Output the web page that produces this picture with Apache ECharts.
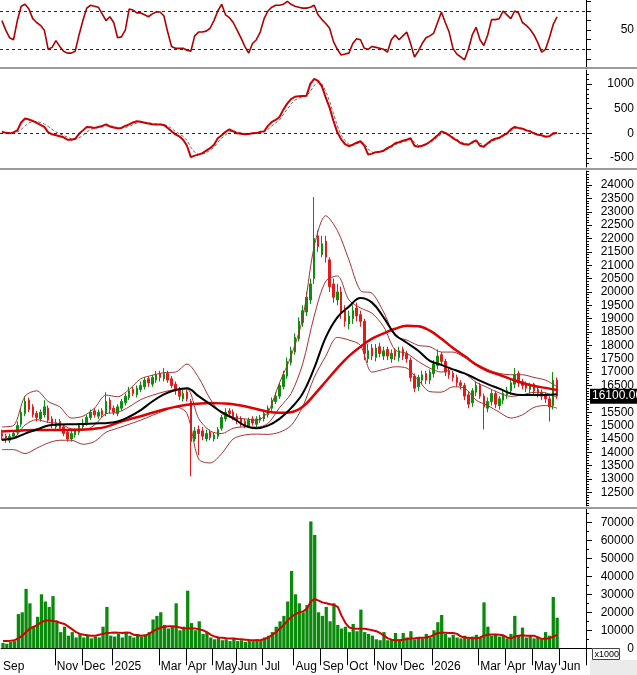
<!DOCTYPE html>
<html><head><meta charset="utf-8">
<script src="https://cdn.jsdelivr.net/npm/echarts@6/dist/echarts.min.js"></script>
<style>html,body{margin:0;padding:0;background:#fff}#c{width:637px;height:675px}</style>
</head><body><div id="c"></div>
<script>
// ---------- calendar ----------
const holidays = ['2024-09-02','2024-09-03','2025-01-01','2025-01-27','2025-01-28','2025-01-29','2025-01-30','2025-01-31',
  '2025-04-07','2025-04-30','2025-05-01','2025-05-02','2025-09-01','2025-09-02','2026-01-01',
  '2026-02-16','2026-02-17','2026-02-18','2026-02-19','2026-02-20','2026-04-30','2026-05-01'];
const firstDay = '2024-09-04', lastDay = '2026-06-30';
const daysPerBar = 3;
const shownMonths = ['2024-09','2024-11','2024-12','2025-01','2025-03','2025-04','2025-05','2025-06','2025-07','2025-08',
  '2025-09','2025-10','2025-11','2025-12','2026-01','2026-03','2026-04','2026-05','2026-06'];
const monthNames = ['Jan','Feb','Mar','Apr','May','Jun','Jul','Aug','Sep','Oct','Nov','Dec'];

// ---------- price (one bar per 3 sessions) ----------
const open = [14700,14600,14450,14600,14750,15050,15450,15950,15700,15450,15250,15400,15650,15250,14950,15150,14950,14750,14500,14650,
 14750,14950,15100,15300,15550,15350,15550,15450,15950,15650,15450,15650,15850,16050,16350,16150,16350,16450,16750,16550,
 16700,16950,16750,16950,16750,16550,16350,16000,16250,15900,14500,14850,14800,14500,14750,14500,14600,14900,15250,15550,
 15500,15350,15250,15150,14950,15250,15050,15200,15250,15400,15650,15900,16100,16450,16850,17350,17750,18250,18850,19250,
 19700,20500,22100,21400,21900,21200,20300,19700,20000,19300,18800,19000,19400,19150,18900,17500,17900,17550,17950,17600,
 17850,17500,17800,17550,17850,17700,17450,16850,16450,16700,16950,16700,16950,17250,17650,17400,17050,16950,16800,16600,
 16500,16150,15850,16250,16500,16100,15650,15900,16200,15750,15950,16150,16300,16550,16950,16650,16550,16350,16550,16350,
 16250,16150,16000,15750,16700];
const close = [14600,14500,14600,14700,15000,15500,15900,15600,15400,15300,15500,15700,15200,15000,15100,14900,14700,14500,14700,14800,
 15000,15100,15300,15500,15400,15500,15400,15900,15600,15500,15700,15900,16100,16300,16200,16400,16500,16700,16600,16800,
 16900,16800,16950,16700,16500,16300,16100,16200,16000,14400,14800,14700,14600,14700,14550,14650,14850,15300,15500,15450,
 15300,15200,15100,15000,15200,15100,15250,15300,15450,15650,15950,16100,16500,16900,17400,17800,18300,18900,19300,19800,
 20300,22000,21700,21800,21300,20200,19800,20000,19200,18900,19100,19300,19100,18900,17700,17800,17600,17900,17700,17800,
 17600,17700,17600,17800,17600,17500,16800,16400,16800,16900,16700,17000,17300,17600,17400,17000,16900,16800,16600,16500,
 16100,15800,16300,16500,16100,15700,15900,16200,15800,16000,16200,16300,16600,16900,16600,16500,16400,16500,16300,16200,
 16100,16000,15700,16700,16100];
const low = [14450,14350,14350,14500,14650,14950,15350,15500,15300,15150,15150,15300,15100,14900,14850,14800,14600,14400,14400,14550,
 14650,14850,15000,15200,15300,15250,15300,15350,15450,15400,15350,15550,15750,15950,16100,16050,16250,16350,16450,16450,
 16600,16650,16650,16600,16400,16150,15950,15900,15900,13100,14400,13900,14450,14400,14450,14400,14500,14800,15150,15300,
 15200,15050,14950,14900,14900,15000,14950,15100,15150,15300,15550,15800,16000,16350,16750,17250,17650,18150,18700,19100,
 19550,20300,21500,21300,21100,20000,19600,19500,19000,18700,18600,18800,18900,18700,17450,17350,17450,17400,17550,17450,
 17450,17350,17450,17400,17450,17350,16650,16250,16300,16550,16550,16550,16800,17100,17250,16850,16750,16650,16450,16350,
 15950,15650,15700,16100,16000,14850,15500,15750,15650,15600,15800,16000,16150,16400,16450,16350,16250,16200,16150,16050,
 15950,15850,15150,15600,16000];
const high = [14850,14700,14700,14800,15150,15650,16100,16050,15800,15550,15600,15950,15750,15350,15250,15250,15050,14850,14800,14900,
 15100,15250,15400,15600,15650,15600,15650,16250,16050,15750,15800,16000,16200,16450,16450,16500,16650,16800,16850,16900,
 17050,17050,17150,17050,16850,16650,16450,16350,16350,16000,14950,15000,14950,14850,14850,14750,14950,15400,15650,15650,
 15600,15450,15350,15250,15300,15350,15350,15400,15550,15750,16050,16250,16600,17050,17550,17950,18450,19050,19500,20000,
 20500,23550,22300,22100,22100,21300,20500,20300,20200,19500,19300,19500,19600,19300,19000,18050,18050,18050,18100,17950,
 17950,17850,17900,17950,17950,17800,17550,16950,16900,17050,17050,17100,17450,17850,17750,17500,17150,17050,16900,16700,
 16600,16250,16400,16650,16600,16200,16050,16350,16300,16100,16300,16450,16700,17150,17050,16750,16650,16600,16600,16450,
 16350,16250,16100,17000,16800];
const lastPrice = 16100;

// ---------- overlays (read every 3rd bar) ----------
const overlayStep = 3;
const maFast = [14460,14520,14700,14850,15000,15040,15050,15060,15080,15090,15150,15330,15580,15900,16170,16330,16400,16100,15800,15500,
 15270,15000,14900,15000,15250,15650,16200,17150,18300,19050,19450,19770,19600,19050,18400,18100,17800,17420,17270,17100,
 16950,16750,16550,16380,16200,16140,16140,16140,16170];
const maSlow = [14780,14800,14820,14830,14830,14830,14840,14850,14880,14950,15100,15230,15350,15480,15600,15700,15780,15820,15840,15830,
 15800,15720,15620,15520,15480,15500,15700,16150,16650,17150,17600,17950,18250,18450,18620,18730,18720,18550,18250,17900,
 17600,17280,17050,16900,16740,16590,16480,16410,16330];
const bbUpper = [14950,15000,16100,16300,15900,15700,15280,15350,15650,16140,16080,16350,16750,16880,16980,17000,17300,16800,16000,15450,
 15300,15250,15200,15500,16600,17600,19000,21700,22850,22300,21200,20050,19950,19250,18350,18200,18000,17950,17750,17750,
 17550,17300,17100,16950,16900,16900,16800,16700,16450];
const bbMid = [14520,14550,15020,15220,15120,15070,14870,14820,15020,15440,15490,15700,15970,16130,16260,16350,16370,15270,14800,14700,
 14900,14950,14940,15080,15670,16200,17300,19100,20400,20600,19700,19400,19200,18700,17830,17700,17400,17150,17000,17100,
 16950,16620,16420,16220,16090,16150,16240,16220,16050];
const bbLower = [14100,14100,13950,14150,14350,14450,14450,14300,14400,14750,14900,15050,15200,15380,15550,15700,15450,13750,13600,13950,
 14500,14650,14680,14670,14750,15000,15700,16800,17600,18300,18200,18000,17000,17100,17200,17150,16700,16270,16250,16450,
 16400,15950,15750,15500,15280,15400,15680,15750,15650];

// ---------- volume ----------
const volume = [3000,2500,3500,4000,19000,20000,33000,25000,12000,17500,30000,26000,23000,29000,15000,9000,12000,7000,9000,6000,
 8000,6000,7500,5500,6500,6000,12000,23000,7000,6500,8000,6000,9000,7000,6000,8000,6500,7500,9000,16000,
 18000,20000,13000,11000,12000,25000,10000,12000,32000,14000,10000,15000,8000,9000,6000,5000,6000,4500,5000,4000,
 5500,4000,4500,3500,4500,4000,5000,4500,6000,7000,9000,12000,15000,18000,26000,43000,30000,25000,20000,24000,
 70500,63000,20000,18000,23000,15000,25000,13000,11000,12000,9000,13500,9500,21500,9000,8000,7000,5000,4500,9000,
 4500,5000,8500,5000,8500,6000,9500,5000,6000,5500,8000,6000,10000,14500,18500,8000,6000,7500,6000,5500,
 7000,5500,6500,7500,6000,25500,12000,7000,8000,6500,7000,5500,8000,18000,7000,11500,6000,7000,5500,6500,
 5000,9000,7000,28500,17000];
const volumeMA = [4000,4000,4200,4500,5500,7000,9000,11000,12000,13000,14500,15400,15500,15200,15000,14000,13500,12000,10500,9000,
 8000,7500,7200,7000,7000,7500,8000,8500,8600,8800,8700,8500,8800,8600,7500,7200,7000,7200,8000,9500,
 10500,11500,12000,12300,12300,12000,11500,11000,11200,11000,11000,10500,10000,9000,7500,6500,6000,5800,5600,5500,
 5500,5200,5000,4800,4600,4500,4500,4600,5200,6000,7500,9000,11000,13000,15500,17500,19000,20000,20500,22000,
 26000,27500,26500,25500,25000,24500,24000,23000,18000,14000,11500,11000,10800,10800,10800,10500,10000,9500,8500,7000,
 5500,4800,4500,4500,4800,5200,5500,5600,5800,5800,6000,6500,7500,8500,8600,8600,8500,8500,8000,6500,
 6000,5800,5600,5600,6000,7000,7500,7600,7600,7500,7200,6000,5500,6500,7000,7200,7000,7000,7000,6000,
 5200,5500,5500,6500,7500];

// ---------- oscillators ----------
const rsi = [60,50,42,40,60,75,77,72,62,58,55,50,30,32,39,33,28,26,26,28,45,60,73,76,75,74,67,60,64,58,
 42,43,50,72,71,68,68,66,64,67,69,69,65,48,33,31,31,31,29,28,44,48,48,49,52,60,70,77,66,63,
 58,50,42,33,26,36,40,48,62,70,74,76,76,77,80,77,75,74,73,73,74,76,66,61,57,52,38,30,24,25,
 26,36,41,40,31,30,33,32,31,30,27,40,45,40,44,48,36,22,28,36,42,44,47,58,69,58,48,31,25,22,
 19,30,45,53,40,34,45,61,61,62,70,66,62,70,68,58,55,51,45,37,27,30,42,56,64];
const rsiLevels = [30, 70];
const macd = [33,10,0,20,60,220,300,280,250,210,170,130,20,-20,-40,-60,-80,-130,-130,-110,
 -10,60,130,125,110,130,150,180,140,120,100,110,150,180,220,245,235,215,200,185,
 180,180,170,110,40,-20,-60,-130,-250,-480,-450,-430,-400,-350,-300,-230,-100,-40,30,80,
 40,0,-10,-20,-15,0,5,30,40,150,230,270,330,480,600,690,740,750,755,760,
 1000,1100,1060,950,720,520,250,20,-120,-220,-260,-230,-190,-160,-250,-430,-410,-380,-370,-350,
 -300,-260,-200,-180,-150,-130,-100,-250,-270,-250,-220,-170,-110,-40,40,10,-40,-100,-140,-200,
 -220,-230,-180,-140,-250,-270,-200,-140,-110,-90,-40,0,80,130,110,95,60,40,0,-30,
 -40,-70,-60,0,5];
const macdSignal = [20,20,15,15,25,80,150,210,240,240,220,190,140,80,30,-10,-40,-80,-110,-120,
 -90,-40,30,80,100,115,130,150,150,140,120,110,120,140,175,210,225,225,215,200,
 190,185,180,150,100,40,-10,-60,-140,-280,-380,-420,-420,-390,-340,-280,-180,-100,-30,30,
 50,30,10,-5,-10,-8,0,15,30,80,150,210,270,380,490,590,670,710,740,750,
 850,970,1030,1000,850,650,400,150,-40,-150,-220,-240,-210,-180,-200,-320,-380,-390,-380,-360,
 -320,-280,-230,-200,-170,-150,-120,-180,-240,-250,-230,-190,-140,-80,-10,0,-20,-70,-120,-170,
 -200,-220,-200,-160,-200,-240,-220,-170,-130,-100,-60,-20,40,100,110,100,75,50,15,-15,
 -35,-55,-60,-20,0];

// ---------- axis labels ----------
const rsiLabels = [50];
const macdLabels = [-500, 0, 500, 1000];
const priceLabels = [12500,13000,13500,14000,14500,15000,15500,16000,16500,17000,17500,18000,18500,19000,19500,20000,20500,21000,21500,22000,22500,23000,23500,24000];
const volumeLabels = [0,10000,20000,30000,40000,50000,60000,70000];

// ---------- build ----------
function tradingDays(a, b, hol) {
  const out = [], h = new Set(hol);
  let d = new Date(a + 'T00:00:00Z'); const e = new Date(b + 'T00:00:00Z');
  while (d <= e) {
    const wd = d.getUTCDay(), s = d.toISOString().slice(0, 10);
    if (wd !== 0 && wd !== 6 && !h.has(s)) out.push(s);
    d = new Date(d.getTime() + 86400000);
  }
  return out;
}
const days = tradingDays(firstDay, lastDay, holidays);
const cats = days.filter((_, i) => i % daysPerBar === 0);
const monthLabel = new Map();
cats.forEach((d, i) => {
  const key = d.slice(0, 7), prev = i > 0 ? cats[i - 1].slice(0, 7) : null;
  if (key !== prev && shownMonths.includes(key)) {
    const m = +key.slice(5);
    monthLabel.set(i, m === 1 ? key.slice(0, 4) : monthNames[m - 1]);
  }
});
const sparse = arr => arr.map((v, k) => [cats[k * overlayStep], v]);
const range = (a, b, s) => { const r = []; for (let v = a; v <= b; v += s) r.push(v); return r; };

const FONT = '"Liberation Sans", Arial, sans-serif';
const G = [
  {left: 0, right: 49, top: 0, height: 67},
  {left: 0, right: 49, top: 70, height: 97},
  {left: 0, right: 49, top: 171, height: 335},
  {left: 0, right: 49, top: 509, height: 149}
];
function xCat(g, showIt) {
  const ax = {type: 'category', gridIndex: g, data: cats, boundaryGap: true, show: showIt};
  if (showIt) {
    ax.axisLine = {lineStyle: {color: '#000', width: 1}};
    ax.axisTick = {show: true, interval: i => i > 0 && monthLabel.has(i), length: 17, lineStyle: {color: '#000'}};
    ax.axisLabel = {interval: i => monthLabel.has(i), formatter: (v, i) => monthLabel.get(i) || '',
      align: 'left', margin: 3, color: '#000', fontSize: 12, fontFamily: FONT};
  }
  return ax;
}
function yVal(g, min, max, labels, ticks, len, main) {
  return {type: 'value', gridIndex: g, position: 'right', min, max,
    splitLine: {show: false},
    axisLine: {show: main, lineStyle: {color: '#000', width: 1}},
    axisTick: {show: true, customValues: ticks, length: len, lineStyle: {color: '#000'}},
    axisLabel: {show: main, customValues: labels, formatter: v => String(v), align: 'right', margin: 48,
      color: '#000', fontSize: 12, fontFamily: FONT}};
}

const dotted = {color: '#1c1c8c', type: [3, 3], width: 1};
const option = {
  animation: false,
  backgroundColor: '#fff',
  grid: G,
  xAxis: [xCat(0, false), xCat(1, false), xCat(2, false), xCat(3, true)],
  yAxis: [
    yVal(0, 11.5, 81.5, rsiLabels, range(20, 80, 10), 5, true),
    yVal(1, -680, 1280, macdLabels, macdLabels, 6, true),
    yVal(1, -680, 1280, [], range(-600, 1200, 100), 3, false),
    yVal(2, 11990, 24525, priceLabels, priceLabels, 6, true),
    yVal(2, 11990, 24525, [], range(12000, 24500, 100), 3, false),
    yVal(3, -5400, 77400, volumeLabels, volumeLabels, 6, true),
    yVal(3, -5400, 77400, [], range(0, 75000, 5000), 3, false)
  ],
  series: [
    {type: 'line', xAxisIndex: 0, yAxisIndex: 0, data: rsi, showSymbol: false,
      lineStyle: {color: '#b00000', width: 1.6},
      markLine: {silent: true, symbol: 'none', label: {show: false}, lineStyle: dotted,
        data: rsiLevels.map(v => ({yAxis: v}))}},
    {type: 'line', xAxisIndex: 1, yAxisIndex: 1, data: macdSignal, showSymbol: false,
      lineStyle: {color: '#8a5a5a', width: 1, type: [3, 2]}},
    {type: 'line', xAxisIndex: 1, yAxisIndex: 1, data: macd, showSymbol: false,
      lineStyle: {color: '#cc0000', width: 2},
      markLine: {silent: true, symbol: 'none', label: {show: false}, lineStyle: dotted, data: [{yAxis: 0}]}},
    {type: 'candlestick', xAxisIndex: 2, yAxisIndex: 3, barWidth: 2,
      data: open.map((o, i) => [o, close[i], low[i], high[i]]),
      itemStyle: {color: '#0a8f0a', color0: '#e31a1a', borderColor: '#0a8f0a', borderColor0: '#e31a1a', borderWidth: 1}},
    {type: 'line', xAxisIndex: 2, yAxisIndex: 3, data: sparse(bbUpper), showSymbol: false, smooth: 0.3,
      lineStyle: {color: '#a83232', width: 1}},
    {type: 'line', xAxisIndex: 2, yAxisIndex: 3, data: sparse(bbMid), showSymbol: false, smooth: 0.3,
      lineStyle: {color: '#a83232', width: 1}},
    {type: 'line', xAxisIndex: 2, yAxisIndex: 3, data: sparse(bbLower), showSymbol: false, smooth: 0.3,
      lineStyle: {color: '#a83232', width: 1}},
    {type: 'line', xAxisIndex: 2, yAxisIndex: 3, data: sparse(maSlow), showSymbol: false, smooth: 0.4,
      lineStyle: {color: '#e00000', width: 2.5}},
    {type: 'line', xAxisIndex: 2, yAxisIndex: 3, data: sparse(maFast), showSymbol: false, smooth: 0.4,
      lineStyle: {color: '#000', width: 2},
      markLine: {silent: true, symbol: 'none', z: 20,
        lineStyle: {color: 'rgba(0,0,0,0)', width: 0},
        label: {show: true, position: 'end', distance: 4, formatter: () => lastPrice.toFixed(2), backgroundColor: '#000',
          color: '#fff', fontSize: 12, fontFamily: FONT, padding: [2, 2, 1, 2]},
        data: [{yAxis: lastPrice}]}},
    {type: 'bar', xAxisIndex: 3, yAxisIndex: 5, data: volume, barCategoryGap: '15%',
      itemStyle: {color: '#0a8a0a'}},
    {type: 'line', xAxisIndex: 3, yAxisIndex: 5, data: volumeMA, showSymbol: false,
      lineStyle: {color: '#d40000', width: 2}}
  ],
  graphic: [
    {type: 'rect', left: 0, top: 67, z: 50, shape: {width: 637, height: 2}, style: {fill: '#9a9a9a'}},
    {type: 'rect', left: 0, top: 168, z: 50, shape: {width: 637, height: 2}, style: {fill: '#9a9a9a'}},
    {type: 'rect', left: 0, top: 507, z: 50, shape: {width: 637, height: 2}, style: {fill: '#9a9a9a'}},
    {type: 'rect', left: 590, top: 660, z: 40, shape: {width: 47, height: 15}, style: {fill: '#ebebeb'}},
    {type: 'group', left: 592, top: 648, z: 60, children: [
      {type: 'rect', shape: {x: 0, y: 0, width: 27, height: 11}, style: {fill: '#fff', stroke: '#444', lineWidth: 1}},
      {type: 'text', x: 2, y: 1.5, style: {text: 'x1000', font: '9px ' + FONT, fill: '#000'}}
    ]}
  ]
};
const chart = echarts.init(document.getElementById('c'), null, {renderer: 'canvas', width: 637, height: 675});
chart.setOption(option);
</script>
</body></html>
